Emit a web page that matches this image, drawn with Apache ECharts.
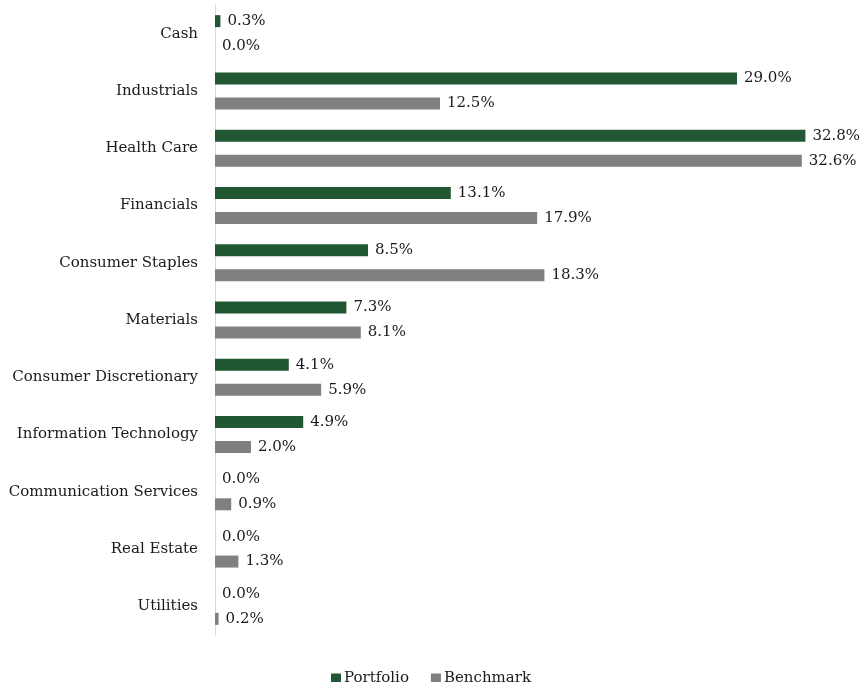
<!DOCTYPE html>
<html>
<head>
<meta charset="utf-8">
<script src="https://cdn.jsdelivr.net/npm/echarts@6/dist/echarts.min.js"></script>
<style>
html, body { margin: 0; padding: 0; background: #fff; }
#chart { width: 862px; height: 682px; }
</style>
</head>
<body>
<div id="chart"></div>
<script>
var sectors = ['Cash', 'Industrials', 'Health Care', 'Financials', 'Consumer Staples', 'Materials',
	'Consumer Discretionary', 'Information Technology', 'Communication Services', 'Real Estate', 'Utilities'];
var portfolio = [0.3, 29.0, 32.8, 13.1, 8.5, 7.3, 4.1, 4.9, 0.0, 0.0, 0.0];
var benchmark = [0.0, 12.5, 32.6, 17.9, 18.3, 8.1, 5.9, 2.0, 0.9, 1.3, 0.2];

var font = 'DejaVu Serif';
var green = '#215732';
var grey = '#808080';

function pct(p) {
	return p.value.toFixed(1) + '%';
}

var myChart = echarts.init(document.getElementById('chart'));
var option = {
	animation: false,
	textStyle: { fontFamily: font },
	grid: { left: 215, top: 5, width: 630, height: 630 },
	legend: {
		top: 666,
		left: 'center',
		itemWidth: 10,
		itemHeight: 10,
		itemGap: 22,
		icon: 'rect',
		textStyle: { fontFamily: font, fontSize: 15, color: '#1a1a1a', padding: [0, 0, 0, -2] },
		data: ['Portfolio', 'Benchmark']
	},
	xAxis: {
		type: 'value',
		min: 0,
		max: 35,
		show: false
	},
	yAxis: {
		type: 'category',
		inverse: true,
		data: sectors,
		axisLine: { lineStyle: { color: '#d9d9d9', width: 1 } },
		axisTick: { show: false },
		axisLabel: { fontFamily: font, fontSize: 15, color: '#1a1a1a', margin: 17 }
	},
	series: [
		{
			name: 'Portfolio',
			type: 'bar',
			data: portfolio,
			barWidth: 12,
			barGap: '108%',
			itemStyle: { color: green },
			label: { show: true, position: 'right', distance: 7, formatter: pct, fontFamily: font, fontSize: 15, color: '#1a1a1a' }
		},
		{
			name: 'Benchmark',
			type: 'bar',
			data: benchmark,
			barWidth: 12,
			barGap: '108%',
			itemStyle: { color: grey },
			label: { show: true, position: 'right', distance: 7, formatter: pct, fontFamily: font, fontSize: 15, color: '#1a1a1a' }
		}
	]
};
myChart.setOption(option);
</script>
</body>
</html>
